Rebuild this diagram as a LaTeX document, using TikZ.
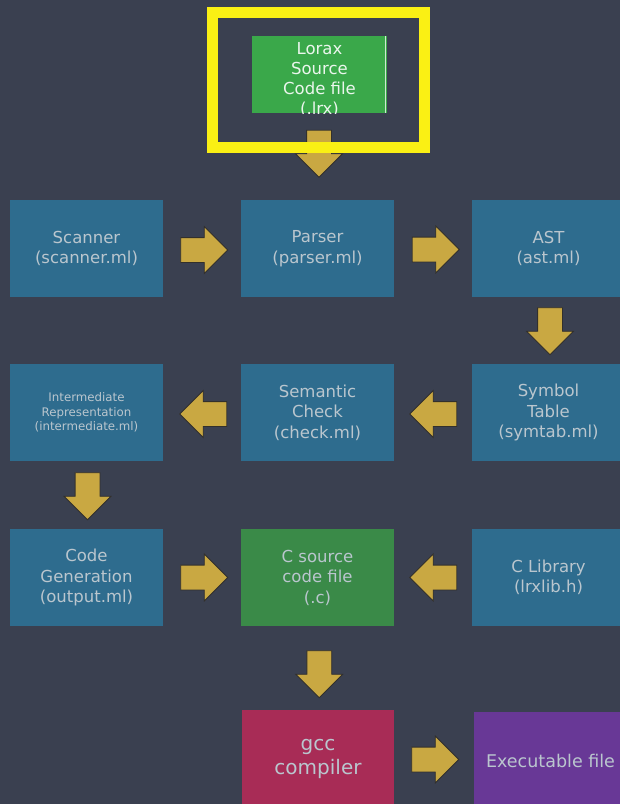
\documentclass[tikz,border=0pt]{standalone}
\usepackage{fontspec}
\setmainfont{DejaVu Sans}
\usetikzlibrary{shapes.arrows,calc}
\definecolor{bg}{RGB}{58,64,80}
\definecolor{boxblue}{RGB}{46,108,142}
\definecolor{txt}{RGB}{186,198,206}
\definecolor{topgreen}{RGB}{58,168,74}
\definecolor{cgreen}{RGB}{58,138,72}
\definecolor{gccred}{RGB}{168,44,86}
\definecolor{execpurple}{RGB}{104,56,150}
\definecolor{arrowgold}{RGB}{201,168,66}
\definecolor{arrowedge}{RGB}{50,48,44}
\definecolor{frameyellow}{RGB}{250,240,20}
\tikzset{
  box/.style={fill=boxblue, minimum width=153pt, minimum height=97pt, inner sep=0pt, align=center, text=txt, font=\fontsize{16.5}{20.5}\selectfont},
  smalltext/.style={font=\fontsize{11.8}{14.5}\selectfont},
  bigtext/.style={font=\fontsize{20}{24}\selectfont},
  exectext/.style={font=\fontsize{17.5}{22}\selectfont},
  flow/.style={single arrow, draw=arrowedge, fill=arrowgold, line width=0.8pt, minimum height=47pt, inner xsep=0pt, inner ysep=12pt, single arrow head extend=11pt, single arrow head indent=0pt},
}
\begin{document}
\begin{tikzpicture}[x=1pt,y=-1pt]
\useasboundingbox (0,0) rectangle (620,804);
\fill[bg] (0,0) rectangle (620,804);
\clip (0,0) rectangle (620,804);

% top source box
\node[fill=topgreen, minimum width=135pt, minimum height=77pt, inner sep=0pt] (src) at (319.5,74.5) {};
\begin{scope}
\clip (src.south west) rectangle (src.north east);
\node[anchor=north, inner sep=0pt, align=center, text=white!90!topgreen, font=\fontsize{16.5}{20}\selectfont] (srctext) at (319.5,42) {Lorax\\Source\\Code file\\(.lrx)};
\end{scope}
\draw[white!75!topgreen, line width=1pt] ($(src.north east)+(-1.5,0)$) -- ($(src.south east)+(-1.5,0)$);

% row 1
\node[box] (scanner) at (86.5,248.5) {Scanner\\(scanner.ml)};
\node[box] (parser) at (317.5,248.5) {Parser\\(parser.ml)};
\node[box] (ast) at (548.5,248.5) {AST\\(ast.ml)};
% row 2
\node[box, smalltext] (inter) at (86.5,412.5) {Intermediate\\Representation\\(intermediate.ml)};
\node[box] (check) at (317.5,412.5) {Semantic\\Check\\(check.ml)};
\node[box] (symtab) at (548.5,412.5) {Symbol\\Table\\(symtab.ml)};
% row 3
\node[box] (codegen) at (86.5,577.5) {Code\\Generation\\(output.ml)};
\node[box, fill=cgreen] (csrc) at (317.5,577.5) {C source\\code file\\(.c)};
\node[box] (clib) at (548.5,577.5) {C Library\\(lrxlib.h)};
% row 4
\node[box, bigtext, fill=gccred, minimum width=152pt] (gcc) at (318,758.5) {gcc\\compiler};
\node[box, exectext, fill=execpurple] (exec) at (550.5,760.5) {Executable file};

% block arrows
\node[flow, rotate=-90] (a0) at ($(src.south)!0.5!(parser.north)+(0.5,-9)$) {};
\node[flow] (a1) at ($(scanner.east)!0.5!(parser.west)+(-4,1.5)$) {};
\node[flow] (a2) at ($(parser.east)!0.5!(ast.west)+(-3.5,1)$) {};
\node[flow, rotate=-90] (a3) at ($(ast.south)!0.5!(symtab.north)+(1.5,-5.5)$) {};
\node[flow, rotate=180] (a4) at ($(check.west)!0.5!(inter.east)+(7.5,1.5)$) {};
\node[flow, rotate=180] (a5) at ($(symtab.west)!0.5!(check.east)+(6.5,1.5)$) {};
\node[flow, rotate=-90] (a6) at ($(inter.south)!0.5!(codegen.north)+(1,-5)$) {};
\node[flow] (a7) at ($(codegen.east)!0.5!(csrc.west)+(-4,0)$) {};
\node[flow, rotate=180] (a8) at ($(clib.west)!0.5!(csrc.east)+(6.5,0)$) {};
\node[flow, rotate=-90] (a9) at ($(csrc.south)!0.5!(gcc.north)+(1.5,0)$) {};
\node[flow] (a10) at ($(gcc.east)!0.5!(exec.west)+(-5,0)$) {};

% yellow highlight frame
\draw[frameyellow, line width=11pt] (212.5,12.5) rectangle (424.5,147.5);
\end{tikzpicture}
\end{document}
